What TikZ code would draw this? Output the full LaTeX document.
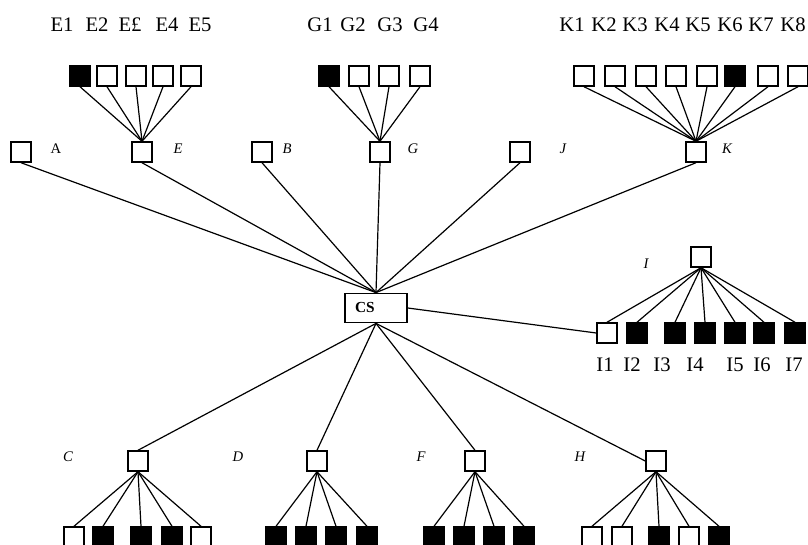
\documentclass[tikz,border=0pt]{standalone}
\usepackage{fontspec}
\setmainfont{Liberation Serif}
\begin{document}
\begin{tikzpicture}[x=0.75pt, y=-0.75pt, line width=0.9pt,
  box/.style={rectangle, draw, line width=1.1pt, minimum size=15pt, inner sep=0pt, fill=white},
  on/.style={box, fill=black},
  off/.style={box},
  tag/.style={font=\fontsize{11}{13}\selectfont\itshape},
  lbl/.style={font=\fontsize{15.5}{18}\selectfont}]
\useasboundingbox (0,0) rectangle (808,545);

% server and first level
\node[box, minimum height=22pt, text width=31.5pt, inner xsep=7.5pt, align=left,
  font=\fontsize{11.5}{13}\selectfont\bfseries] (CS) at (376,308) {CS};
\node[box] (A) at (21,152) {};
\node[box] (E) at (142,152) {};
\node[box] (B) at (262,152) {};
\node[box] (G) at (380,152) {};
\node[box] (J) at (520,152) {};
\node[box] (K) at (696,152) {};
\node[box] (I) at (701,257) {};
\node[box] (C) at (138,461) {};
\node[box] (D) at (317,461) {};
\node[box] (F) at (475,461) {};
\node[box] (H) at (656,461) {};

\node[tag, font=\fontsize{11}{13}\selectfont] (tA) at (56,149) {A};
\node[tag] (tE) at (178,149) {E};
\node[tag] (tB) at (287,149) {B};
\node[tag] (tG) at (413,149) {G};
\node[tag] (tJ) at (563,149) {J};
\node[tag] (tK) at (727,149) {K};
\node[tag] (tI) at (646,264) {I};
\node[tag] (tC) at (68,457) {C};
\node[tag] (tD) at (238,457) {D};
\node[tag] (tF) at (421,457) {F};
\node[tag] (tH) at (580,457) {H};

% leaves
\foreach \x/\s [count=\i] in {80/on,107/off,136/off,163/off,191/off}
  \node[\s] (e\i) at (\x,76) {};
\foreach \x/\s [count=\i] in {329/on,359/off,389/off,420/off}
  \node[\s] (g\i) at (\x,76) {};
\foreach \x/\s [count=\i] in {584/off,615/off,646/off,676/off,707/off,735/on,768/off,798/off}
  \node[\s] (k\i) at (\x,76) {};
\foreach \x/\s [count=\i] in {607/off,637/on,675/on,705/on,735/on,764/on,795/on}
  \node[\s] (i\i) at (\x,333) {};
\foreach \x/\s [count=\i] in {74/off,103/on,141/on,172/on,201/off}
  \node[\s] (c\i) at (\x,537) {};
\foreach \x [count=\i] in {276,306,336,367}
  \node[on] (d\i) at (\x,537) {};
\foreach \x [count=\i] in {434,464,494,524}
  \node[on] (f\i) at (\x,537) {};
\foreach \x/\s [count=\i] in {592/off,622/off,659/on,689/off,719/on}
  \node[\s] (h\i) at (\x,537) {};

% leaf names
\foreach \x/\t [count=\i] in {62/E1,97/E2,130/E£,167/E4,200/E5}
  \node[lbl] (le\i) at (\x,25) {\t};
\foreach \x [count=\i] in {320,353,390,426}
  \node[lbl] (lg\i) at (\x,25) {G\i};
\foreach \x [count=\i] in {572,604,635,667,698,730,761,793}
  \node[lbl] (lk\i) at (\x,25) {K\i};
\foreach \x [count=\i] in {605,632,662,695,735,762,794}
  \node[lbl] (li\i) at (\x,365) {I\i};

% links
\foreach \n in {A,E,B,G,J,K}
  \draw (CS.north) -- (\n.south);
\foreach \n in {C,D,F}
  \draw (CS.south) -- (\n.north);
\draw (CS.south) -- (H.west);
\draw (CS.east) -- (i1.west);
\foreach \i in {1,...,5} \draw (e\i.south) -- (E.north);
\foreach \i in {1,...,4} \draw (g\i.south) -- (G.north);
\foreach \i in {1,...,8} \draw (k\i.south) -- (K.north);
\foreach \i in {1,...,7} \draw (I.south) -- (i\i.north);
\foreach \i in {1,...,5} \draw (C.south) -- (c\i.north);
\foreach \i in {1,...,4} \draw (D.south) -- (d\i.north);
\foreach \i in {1,...,4} \draw (F.south) -- (f\i.north);
\foreach \i in {1,...,5} \draw (H.south) -- (h\i.north);
\end{tikzpicture}
\end{document}
